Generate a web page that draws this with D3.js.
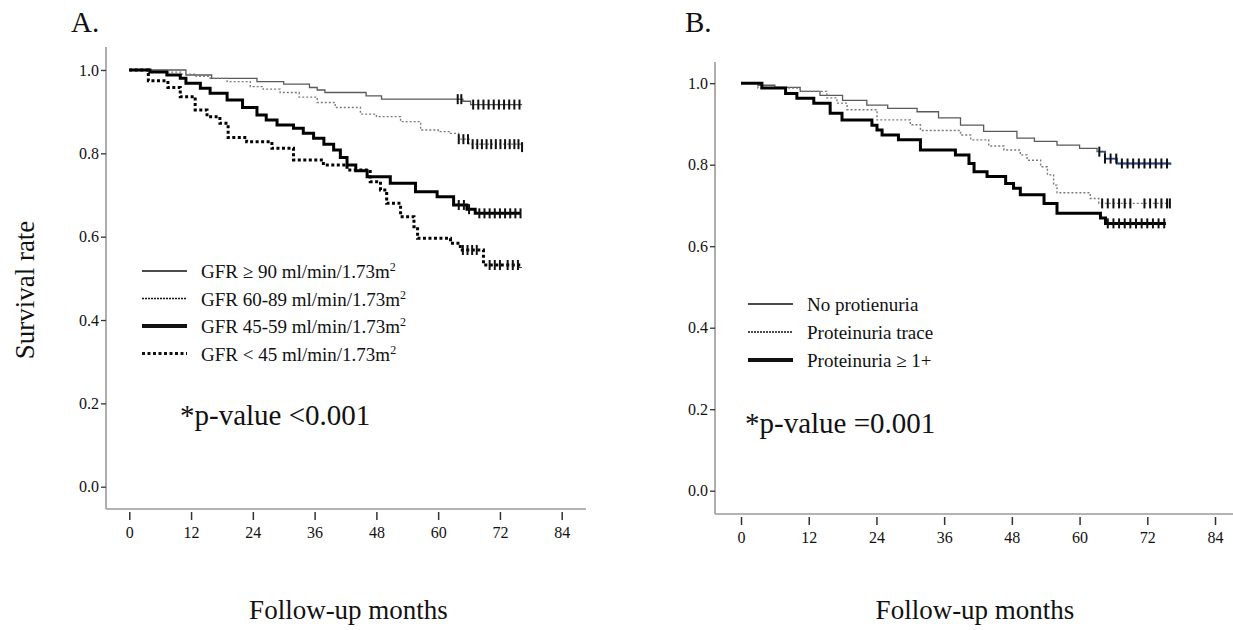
<!DOCTYPE html>
<html>
<head>
<meta charset="utf-8">
<script src="https://cdn.jsdelivr.net/npm/d3@7"></script>
<style>
  body { margin: 0; background: #fff; }
</style>
</head>
<body>
<svg id="chart" width="1233" height="630"></svg>
<script>
// ---- data ----
const xTicks = [0, 12, 24, 36, 48, 60, 72, 84];
const yTicks = [0, 0.2, 0.4, 0.6, 0.8, 1.0];

// panel A: GFR groups
const gfrLabels = ['GFR ≥ 90 ml/min/1.73m', 'GFR 60-89 ml/min/1.73m', 'GFR 45-59 ml/min/1.73m', 'GFR < 45 ml/min/1.73m'];

const gfr90Times = [0, 11, 16, 24.8, 30, 35, 36.5, 38, 46, 49, 64.8, 66.3, 76.3];
const gfr90Surv = [1, 0.988, 0.98, 0.972, 0.966, 0.958, 0.952, 0.946, 0.938, 0.93, 0.925, 0.917, 0.917];
const gfr90Censor = [63.8, 64.5, 66.8, 67.8, 68.8, 69.8, 70.8, 71.8, 72.8, 73.8, 74.8, 75.8];

const gfr60Times = [0, 6, 10, 13, 15.7, 19, 23.5, 26, 29.3, 33, 36.5, 40, 44.9, 48, 52.7, 56.6, 60, 62.4, 64, 66, 76.3];
const gfr60Surv = [1, 0.995, 0.99, 0.985, 0.98, 0.972, 0.96, 0.954, 0.946, 0.935, 0.922, 0.91, 0.894, 0.888, 0.876, 0.856, 0.852, 0.848, 0.834, 0.822, 0.815];
const gfr60Censor = [64, 64.9, 65.8, 66.7, 67.6, 68.5, 69.4, 70.3, 71.2, 72.1, 73, 73.9, 74.8, 75.6, 76.3];

const gfr45Times = [0, 4, 7.3, 9.9, 11, 13.8, 15.7, 19, 22, 24.8, 26.6, 28.7, 31.9, 33.8, 35.8, 37.8, 39.7, 41, 42.3, 44, 46.2, 50.7, 55.6, 59.8, 63, 65.6, 67.2, 76];
const gfr45Surv = [1, 0.995, 0.988, 0.98, 0.968, 0.956, 0.944, 0.928, 0.91, 0.892, 0.88, 0.868, 0.86, 0.848, 0.836, 0.822, 0.808, 0.79, 0.772, 0.758, 0.744, 0.728, 0.708, 0.696, 0.676, 0.666, 0.656, 0.656];
const gfr45Censor = [64, 65, 66, 68, 69, 70, 71, 72, 73, 74, 75, 76];

const gfr0Times = [0, 3.7, 7.5, 9.9, 12.8, 15.1, 17.6, 19.2, 22.8, 27.7, 31.9, 37.7, 42.3, 46.8, 48.8, 50, 52.7, 55.3, 56, 62.4, 64.3, 68.8, 76];
const gfr0Surv = [1, 0.974, 0.958, 0.936, 0.904, 0.888, 0.872, 0.838, 0.828, 0.812, 0.784, 0.772, 0.76, 0.732, 0.712, 0.68, 0.648, 0.624, 0.596, 0.584, 0.568, 0.532, 0.525];
const gfr0Censor = [64.8, 65.7, 66.6, 67.5, 70, 71, 72, 73.5, 74.5, 75.5];

// panel B: proteinuria groups
const protLabels = ['No protienuria', 'Proteinuria trace', 'Proteinuria ≥ 1+'];

const noProtTimes = [0, 3, 6, 10.5, 14, 18, 22.3, 26, 31.2, 35, 38.9, 43, 48.9, 52, 56, 60, 63.1, 64.5, 66.6, 76.1];
const noProtSurv = [1, 0.995, 0.99, 0.98, 0.97, 0.958, 0.946, 0.938, 0.93, 0.915, 0.897, 0.882, 0.865, 0.857, 0.848, 0.84, 0.832, 0.815, 0.803, 0.8];
const noProtCensor = [63.5, 64.5, 65.5, 66.5, 67.5, 68.5, 69.5, 70.5, 71.5, 72.5, 73.5, 74.5, 75.5];

const traceTimes = [0, 3, 10.5, 15.2, 17, 18.8, 24.1, 30, 31.8, 38.9, 40.7, 43.9, 46.6, 49.5, 50.7, 53.1, 54.3, 55.4, 56, 61.9, 63.4, 76.1];
const traceSurv = [1, 0.988, 0.98, 0.964, 0.951, 0.935, 0.91, 0.898, 0.884, 0.873, 0.861, 0.846, 0.836, 0.824, 0.811, 0.795, 0.775, 0.75, 0.731, 0.717, 0.705, 0.705];
const traceCensor = [64, 65, 66, 67, 68, 69, 71.5, 72.5, 73.5, 74.5, 75.5, 76];

const prot1Times = [0, 3.7, 7.9, 9.9, 12.9, 15.8, 17.9, 23.2, 24.1, 25, 27.9, 31.8, 38, 40.4, 41.3, 43.6, 46.9, 48.3, 49.5, 53.7, 56, 63.7, 64.6, 75.3];
const prot1Surv = [1, 0.988, 0.975, 0.963, 0.951, 0.926, 0.91, 0.897, 0.885, 0.873, 0.861, 0.836, 0.824, 0.803, 0.783, 0.771, 0.754, 0.742, 0.726, 0.705, 0.681, 0.669, 0.656, 0.656];
const prot1Censor = [65, 66, 67, 68, 69, 70, 71, 72, 73, 74, 75];

// ---- helpers ----
const SERIF = "'Liberation Serif', 'Times New Roman', serif";

const attrs = (options = {}) => s =>
  Object.keys(options).forEach(key => s.attr(key, options[key]));

const lineStyles = [
  { stroke: '#5a5a5a', 'stroke-width': 1.3 },
  { stroke: '#7a7a7a', 'stroke-width': 1.4, 'stroke-dasharray': '2,2' },
  { stroke: '#000', 'stroke-width': 3 },
  { stroke: '#000', 'stroke-width': 3, 'stroke-dasharray': '3,2.5' },
];

const svg = d3.select('#chart');

const toPoints = (times, surv) => times.map((t, i) => ({ t, s: surv[i] }));

function survivalAt(points, t) {
  let s = points[0].s;
  points.forEach(p => { if (p.t <= t) s = p.s; });
  return s;
}

const label = (sel, size) => sel
  .style('font-family', SERIF)
  .style('font-size', size)
  .attr('fill', '#111');

function drawPanel(cfg) {
  const x = d3.scaleLinear().domain([0, 84]).range(cfg.xRange);
  const y = d3.scaleLinear().domain([0, 1]).range(cfg.yRange);
  const g = svg.append('g');

  // axis lines
  g.append('line')
    .call(attrs({ x1: cfg.axisX, x2: cfg.axisX, y1: cfg.axisTop, y2: cfg.axisY, stroke: '#9a9a9a', 'stroke-width': 1.6 }));
  g.append('line')
    .call(attrs({ x1: cfg.axisX, x2: cfg.axisRight, y1: cfg.axisY, y2: cfg.axisY, stroke: '#9a9a9a', 'stroke-width': 1.6 }));

  const yAxis = g.append('g')
    .attr('transform', `translate(${cfg.axisX},0)`)
    .call(d3.axisLeft(y).tickValues(yTicks).tickFormat(d3.format('.1f')).tickSize(5).tickPadding(2));
  yAxis.select('.domain').remove();
  yAxis.selectAll('line').attr('stroke', '#333').attr('stroke-width', 1.3);
  yAxis.selectAll('text').call(label, '16px');

  const xAxis = g.append('g')
    .attr('transform', `translate(0,${cfg.axisY + 3})`)
    .call(d3.axisBottom(x).tickValues(xTicks).tickSize(8).tickPadding(7));
  xAxis.select('.domain').remove();
  xAxis.selectAll('line').attr('stroke', '#333').attr('stroke-width', 1.5);
  xAxis.selectAll('text').call(label, '16px');

  const line = d3.line().x(d => x(d.t)).y(d => y(d.s)).curve(d3.curveStepAfter);

  cfg.series.forEach(ser => {
    const pts = toPoints(ser.times, ser.surv);
    g.append('path').datum(pts)
      .attr('fill', 'none')
      .call(attrs(lineStyles[ser.style]))
      .attr('d', line);

    if (ser.tailColor) {
      const tail = pts.filter(p => p.t >= ser.censor[0]);
      tail.unshift({ t: ser.censor[0], s: survivalAt(pts, ser.censor[0]) });
      g.append('path').datum(tail)
        .attr('fill', 'none')
        .attr('stroke', ser.tailColor)
        .attr('stroke-width', 1.8)
        .attr('d', line);
    }

    g.selectAll(null)
      .data(ser.censor)
      .join('line')
      .attr('x1', d => x(d))
      .attr('x2', d => x(d))
      .attr('y1', d => y(survivalAt(pts, d)) - 5)
      .attr('y2', d => y(survivalAt(pts, d)) + 5)
      .attr('stroke', '#111')
      .attr('stroke-width', 2);
  });

  // legend
  cfg.labels.forEach((lab, i) => {
    const ly = cfg.legendY + i * cfg.legendStep;
    const st = cfg.series[i].style;
    const legStyle = Object.assign({}, lineStyles[st], { stroke: '#111' });
    if (st === 1) legStyle['stroke-dasharray'] = '2,1';
    if (st === 2) legStyle['stroke-width'] = 4;
    g.append('line')
      .call(attrs({ x1: cfg.legendX, x2: cfg.legendX + 45, y1: ly, y2: ly }))
      .call(attrs(legStyle));
    const t = g.append('text')
      .attr('x', cfg.legendX + 59)
      .attr('y', ly + 7)
      .call(label, '19px')
      .text(lab);
    if (cfg.superscript) {
      t.append('tspan').attr('dy', -7).style('font-size', '12px').text('2');
    }
  });

  g.append('text')
    .attr('x', cfg.pX).attr('y', cfg.pY)
    .call(label, '29px')
    .text(cfg.pText);

  g.append('text')
    .attr('x', cfg.titleX).attr('y', 32)
    .call(label, '29px')
    .text(cfg.title);

  g.append('text')
    .attr('x', (cfg.xRange[0] + cfg.xRange[1]) / 2 + cfg.xLabelShift).attr('y', 619)
    .attr('text-anchor', 'middle')
    .call(label, '27px')
    .text('Follow-up months');
}

drawPanel({
  title: 'A.', titleX: 71,
  xRange: [129.3, 561.7], yRange: [486.7, 70],
  axisX: 106, axisTop: 47, axisY: 509, axisRight: 586,
  labels: gfrLabels, superscript: true,
  legendX: 142, legendY: 271, legendStep: 27.5,
  pText: '*p-value <0.001', pX: 180, pY: 425,
  xLabelShift: 3,
  series: [
    { times: gfr90Times, surv: gfr90Surv, censor: gfr90Censor, style: 0 },
    { times: gfr60Times, surv: gfr60Surv, censor: gfr60Censor, style: 1 },
    { times: gfr45Times, surv: gfr45Surv, censor: gfr45Censor, style: 2 },
    { times: gfr0Times, surv: gfr0Surv, censor: gfr0Censor, style: 3 },
  ],
});

drawPanel({
  title: 'B.', titleX: 685,
  xRange: [741, 1215], yRange: [490.7, 83.2],
  axisX: 715, axisTop: 62, axisY: 514, axisRight: 1233,
  labels: protLabels, superscript: false,
  legendX: 748, legendY: 304, legendStep: 28,
  pText: '*p-value =0.001', pX: 745, pY: 433,
  xLabelShift: -3,
  series: [
    { times: noProtTimes, surv: noProtSurv, censor: noProtCensor, style: 0, tailColor: '#2c4a8c' },
    { times: traceTimes, surv: traceSurv, censor: traceCensor, style: 1 },
    { times: prot1Times, surv: prot1Surv, censor: prot1Censor, style: 2 },
  ],
});

svg.append('text')
  .attr('transform', 'translate(34,290) rotate(-90)')
  .attr('text-anchor', 'middle')
  .call(label, '27px')
  .text('Survival rate');
</script>
</body>
</html>
